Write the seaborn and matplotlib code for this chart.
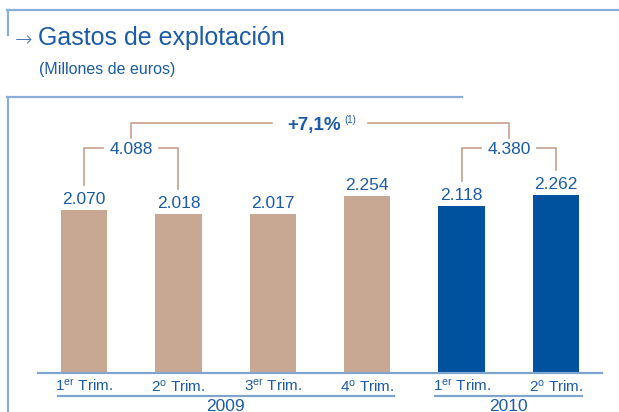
import matplotlib.pyplot as plt
import matplotlib.transforms as mtransforms
from matplotlib.lines import Line2D
import pandas as pd
import seaborn as sns

# Gastos de explotación por trimestre (millones de euros)
quarters = ["1T09", "2T09", "3T09", "4T09", "1T10", "2T10"]
years = ["2009", "2009", "2009", "2009", "2010", "2010"]
gastos = [2070, 2018, 2017, 2254, 2118, 2262]
tick_labels = [r"1$^{\mathrm{er}}$ Trim.", r"2$^{\mathrm{o}}$ Trim.", r"3$^{\mathrm{er}}$ Trim.",
               r"4$^{\mathrm{o}}$ Trim.", r"1$^{\mathrm{er}}$ Trim.", r"2$^{\mathrm{o}}$ Trim."]
semestres = [[0, 1], [4, 5]]   # bars summed in each bracket
nota = "(1)"

TXT = "#1b5ba7"
FRAME = "#8aaedb"
BRK = "#c6a08b"
palette = {"2009": "#c9a893", "2010": "#00519e"}
FONT = ["Liberation Sans", "DejaVu Sans"]


def fmt(v):
    return f"{v:,}".replace(",", ".")


plt.rcParams["font.family"] = FONT
plt.rcParams["mathtext.fontset"] = "custom"
plt.rcParams["mathtext.rm"] = "Liberation Sans"
plt.rcParams["mathtext.it"] = "Liberation Sans:italic"
plt.rcParams["mathtext.bf"] = "Liberation Sans:bold"

W, H = 619, 412
fig = plt.figure(figsize=(W / 100, H / 100), dpi=100)


def fx(px):
    return px / W


def fy(py):
    return 1 - py / H


# frames
for xs, ys in [([7, 619], [10, 10]), ([7.5, 7.5], [10, 35]),
               ([7, 462], [97, 97]), ([7.5, 7.5], [97, 412])]:
    fig.add_artist(Line2D([fx(x) for x in xs], [fy(y) for y in ys], color=FRAME, lw=1.6))

fig.text(fx(15), fy(46), "\u2192", fontsize=15, color="#4a78b8", family=["DejaVu Sans"],
         fontweight="light", va="baseline")
fig.text(fx(38), fy(45.5), "Gastos de explotación", fontsize=18, color=TXT, va="baseline")
fig.text(fx(39), fy(74), "(Millones de euros)", fontsize=11.5, color=TXT, va="baseline")

ax_h = 373 - 97
ax = fig.add_axes([fx(38), fy(373), fx(602) - fx(38), ax_h / H])
df = pd.DataFrame({"trimestre": quarters, "año": years, "gastos": gastos})
sns.barplot(data=df, x="trimestre", y="gastos", hue="año", palette=palette, order=quarters,
            width=0.49, saturation=1, legend=False, ax=ax, zorder=2)
ymax = 3507
ax.set_xlim(-0.487, 5.487)
ax.set_ylim(0, ymax)
du = ymax / ax_h   # data units per pixel

for s in ["top", "left", "right"]:
    ax.spines[s].set_visible(False)
ax.spines["bottom"].set_color("#7fa5cf")
ax.spines["bottom"].set_linewidth(1.6)
ax.set_yticks([])
ax.set_xlabel("")
ax.set_ylabel("")
ax.set_xticks(range(len(quarters)), tick_labels)
ax.tick_params(axis="x", length=0, pad=4, labelsize=11, labelcolor=TXT)

# value labels
for i, v in enumerate(gastos):
    ax.annotate(fmt(v), (i, v), xytext=(0, 6), textcoords="offset pixels", ha="center",
                va="baseline", fontsize=12.5, color=TXT)

# semester brackets
y_brk = (373 - 148) * du
for a, b in semestres:
    c = (a + b) / 2
    total = sum(gastos[a:b + 1])
    gap = 28 / 94.4
    for i, side in [(a, c - gap), (b, c + gap)]:
        ax.plot([i, i, side], [gastos[i] + 25 * du, y_brk, y_brk], color=BRK, lw=1.2,
                clip_on=False, solid_joinstyle="miter")
    ax.text(c, y_brk - 6 * du, fmt(total), ha="center", va="baseline", fontsize=12.5, color=TXT)

# year-on-year bracket
c1 = sum(semestres[0]) / 2
c2 = sum(semestres[1]) / 2
cm = (c1 + c2) / 2
y_big = (373 - 123) * du
y_drop = (373 - 138) * du
gap = 47.5 / 94.4
ax.plot([c1, c1, cm - gap], [y_drop, y_big, y_big], color=BRK, lw=1.2, clip_on=False)
ax.plot([c2, c2, cm + gap], [y_drop, y_big, y_big], color=BRK, lw=1.2, clip_on=False)
s1 = sum(gastos[i] for i in semestres[0])
s2 = sum(gastos[i] for i in semestres[1])
pct = f"+{(s2 / s1 - 1) * 100:.1f}%".replace(".", ",")
ax.annotate(pct, (cm, y_big), xytext=(-6, -7), textcoords="offset pixels", ha="center",
            va="baseline", fontsize=13.5, fontweight="bold", color=TXT)
ax.annotate(nota, (cm, y_big), xytext=(24, 0), textcoords="offset pixels", ha="left",
            va="baseline", fontsize=7, color=TXT)

# year groups under the axis
trans = mtransforms.blended_transform_factory(ax.transData, fig.transFigure)
for yr in ["2009", "2010"]:
    idx = [i for i, y in enumerate(years) if y == yr]
    x0, x1 = min(idx) - 0.28, max(idx) + 0.28
    ax.plot([x0, x1], [fy(396), fy(396)], transform=trans, color="#7fa5cf", lw=1.6,
            clip_on=False)
    ax.text((x0 + x1) / 2, fy(399), yr, transform=trans, ha="center", va="top",
            fontsize=12.5, color=TXT)

fig.savefig("out.png", dpi=100)
